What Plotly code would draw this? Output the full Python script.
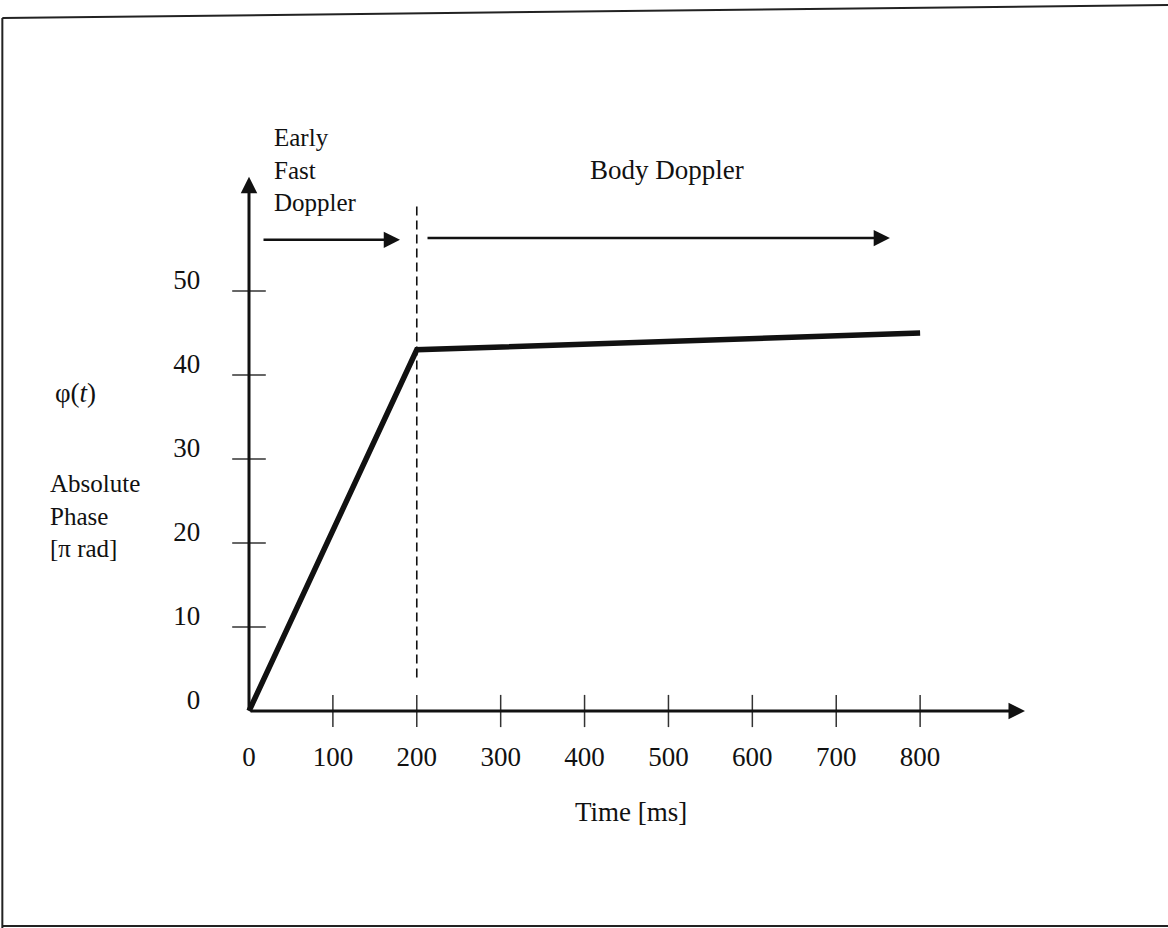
import plotly.graph_objects as go

# Absolute phase profile
time_ms = [0, 200, 800]
phase_pi = [0, 43, 45]

x_ticks = [0, 100, 200, 300, 400, 500, 600, 700, 800]
y_ticks = [0, 10, 20, 30, 40, 50]
x_tick_labels = [str(v) for v in x_ticks]
y_tick_labels = [str(v) for v in y_ticks]

FONT = "Liberation Serif"
INK = "#111111"
FS = 27
FS_BLOCK = 25

fig = go.Figure()

# the phase curve
fig.add_trace(go.Scatter(
    x=time_ms, y=phase_pi, mode="lines",
    line=dict(color=INK, width=5.5), hoverinfo="skip", showlegend=False))

# tick marks crossing the axes
fig.add_trace(go.Scatter(
    x=x_ticks[1:], y=[0] * (len(x_ticks) - 1), mode="markers",
    marker=dict(symbol="line-ns", size=23, line=dict(color="#333333", width=1.5)),
    hoverinfo="skip", showlegend=False))
fig.add_trace(go.Scatter(
    x=[0] * (len(y_ticks) - 1), y=y_ticks[1:], mode="markers",
    marker=dict(symbol="line-ew", size=24, line=dict(color="#333333", width=1.5)),
    hoverinfo="skip", showlegend=False))

# tick labels
fig.add_trace(go.Scatter(
    x=x_ticks, y=[-5.8] * len(x_ticks), mode="text", text=x_tick_labels,
    textposition="middle center",
    textfont=dict(family=FONT, size=FS, color=INK),
    hoverinfo="skip", showlegend=False))
fig.add_trace(go.Scatter(
    x=[-58] * len(y_ticks), y=[v + 1.05 for v in y_ticks], mode="text",
    text=y_tick_labels, textposition="middle left",
    textfont=dict(family=FONT, size=FS, color=INK),
    hoverinfo="skip", showlegend=False))

# axis arrows
arrow_common = dict(showarrow=True, text="", axref="x", ayref="y",
                    xref="x", yref="y", arrowcolor=INK, standoff=0, startstandoff=0)
fig.add_annotation(x=925, y=0, ax=0, ay=0, arrowhead=2, arrowsize=1.1,
                   arrowwidth=3, **arrow_common)
fig.add_annotation(x=0, y=63.6, ax=0, ay=0, arrowhead=2, arrowsize=1.1,
                   arrowwidth=3, **arrow_common)

# phase interval arrows
fig.add_annotation(x=180, y=56.1, ax=15.5, ay=56.1, arrowhead=2, arrowsize=1.3,
                   arrowwidth=2.5, **arrow_common)
fig.add_annotation(x=764, y=56.3, ax=211, ay=56.3, arrowhead=2, arrowsize=1.3,
                   arrowwidth=2.5, **arrow_common)

# boundary between the two regimes
fig.add_shape(type="line", xref="x", yref="y", x0=200, x1=200, y0=4, y1=60.2,
              line=dict(color=INK, width=1.6, dash="9px,5px"))

def label(x, y, text, anchor="left", size=FS):
    fig.add_annotation(x=x, y=y, xref="x", yref="y", text=text, showarrow=False,
                       xanchor=anchor, yanchor="middle", align="left",
                       font=dict(family=FONT, size=size, color=INK))

# region labels
label(27, 64.4, "Early<br>Fast<br>Doppler", size=FS_BLOCK)
label(498, 64.4, "Body Doppler", anchor="center")

# axis titles
label(455, -12.0, "Time [ms]", anchor="center")
label(-234, 37.9, "φ(<i>t</i>)")
label(-240, 23.2, "Absolute<br>Phase<br>[π rad]", size=FS_BLOCK)

# page frame
frame = dict(type="line", xref="paper", yref="paper", line=dict(color="#222222", width=2))
fig.add_shape(x0=0.002, x1=1.0, y0=1 - 18 / 928, y1=1 - 5 / 928, **frame)
fig.add_shape(x0=0.002, x1=0.002, y0=1 - 18 / 928, y1=0.0, **frame)
fig.add_shape(x0=0.002, x1=1.0, y0=1 - 926 / 928, y1=1 - 926 / 928, **frame)

px_x = 0.8389
px_y = 8.4
fig.update_layout(
    width=1168, height=928,
    margin=dict(l=0, r=0, t=0, b=0),
    paper_bgcolor="white", plot_bgcolor="white",
    xaxis=dict(range=[-249 / px_x, (1168 - 249) / px_x], visible=False, fixedrange=True),
    yaxis=dict(range=[(711 - 928) / px_y, 711 / px_y], visible=False, fixedrange=True),
    showlegend=False,
)

fig.write_html("out.html")
